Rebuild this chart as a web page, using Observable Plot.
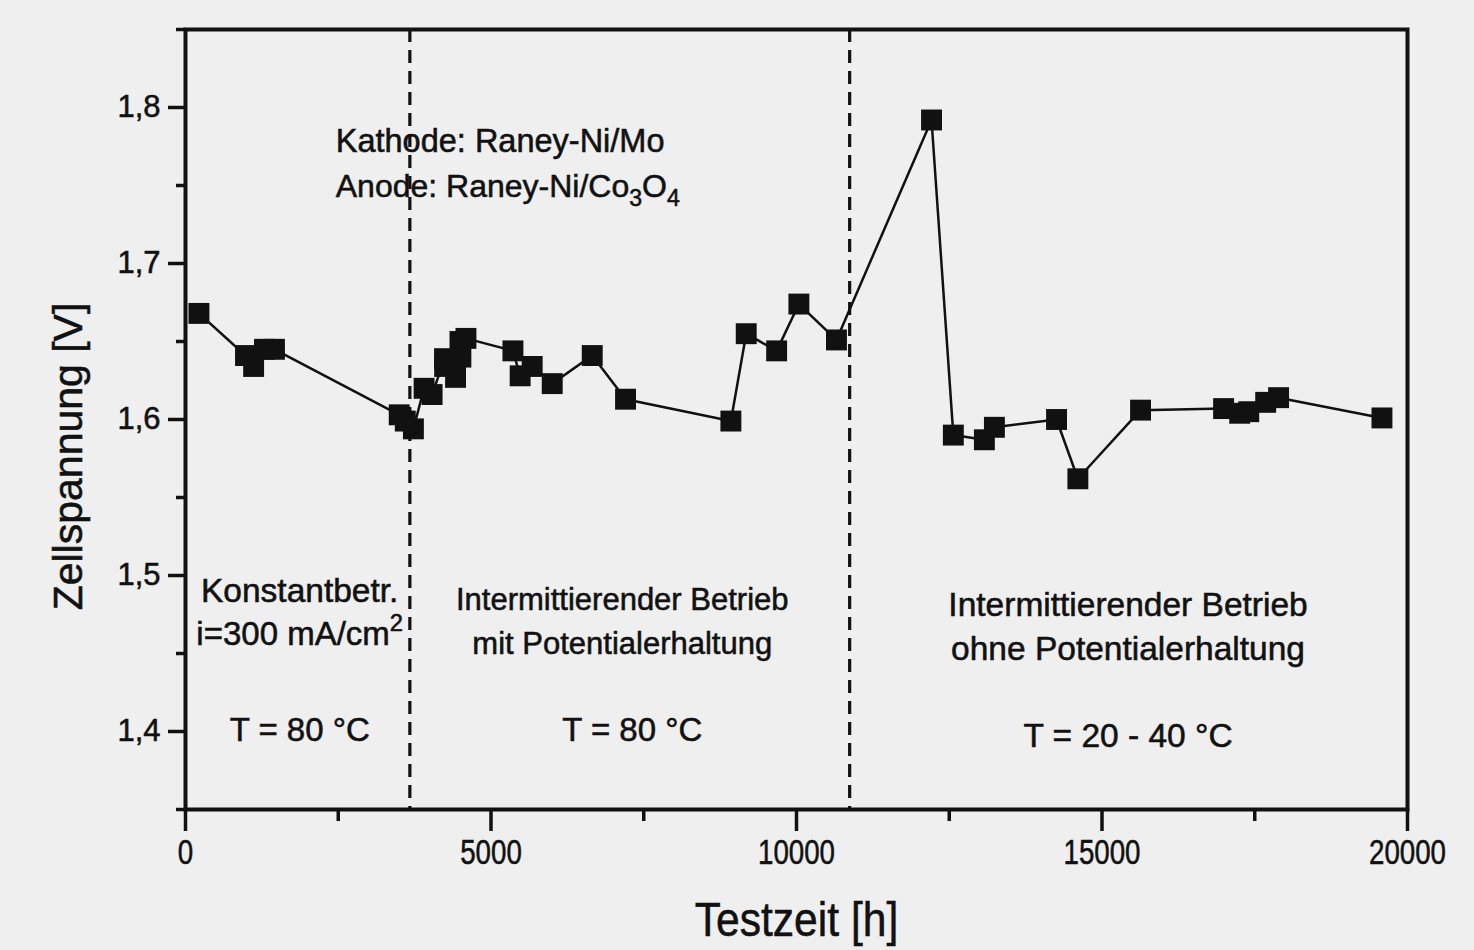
<!DOCTYPE html>
<html>
<head>
<meta charset="utf-8">
<script src="https://cdn.jsdelivr.net/npm/d3@7"></script>
<script src="https://cdn.jsdelivr.net/npm/@observablehq/plot@0.6"></script>
<style>
  html, body { margin: 0; padding: 0; background: #efefef; }
  #chart svg { display: block; }
  #chart svg text { stroke: #111; stroke-width: 0.55px; paint-order: stroke; }
  #chart g[aria-label$="-axis tick"] path { stroke: #111; stroke-width: 3.5px; }
</style>
</head>
<body>
<div id="chart"></div>
<script>
// Cell voltage of the test electrolyser over the operating time
const hours = [220, 982, 1115, 1292, 1456, 3498, 3597, 3730, 3905, 4036,
  4239, 4241, 4420, 4492, 4507, 4590, 5359, 5477, 5674, 6002,
  6657, 7202, 8926, 9177, 9675, 10039, 10654, 12210, 12567, 13075,
  13239, 14256, 14605, 15631, 16990, 17254, 17402, 17679, 17890, 19582];
const volts = [1.668, 1.641, 1.634, 1.645, 1.645, 1.603, 1.599, 1.594, 1.620, 1.616,
  1.639, 1.634, 1.627, 1.650, 1.640, 1.652, 1.644, 1.628, 1.634, 1.623,
  1.641, 1.613, 1.599, 1.655, 1.644, 1.674, 1.651, 1.792, 1.590, 1.587,
  1.595, 1.600, 1.562, 1.606, 1.607, 1.604, 1.605, 1.611, 1.614, 1.601];

// Boundaries between the three operating phases (h)
const phaseBounds = [3672, 10870];

// Axis ticks
const xMajor = [0, 5000, 10000, 15000, 20000];
const xMinor = [2500, 7500, 12500, 17500];
const yMajor = [1.4, 1.5, 1.6, 1.7, 1.8];
const yMinor = [1.35, 1.45, 1.55, 1.65, 1.75, 1.85];

// Electrode materials (left-aligned block)
const materialTexts = ["Kathode: Raney-Ni/Mo", "Anode: Raney-Ni/Co3O4"];
const materialHours = [2459, 2459];
const materialVolts = [1.778, 1.749];

// Operating conditions of each phase (centred blocks)
const phaseTexts = ["Konstantbetr.", "i=300 mA/cm2", "T = 80 °C",
  "Intermittierender Betrieb", "mit Potentialerhaltung", "T = 80 °C",
  "Intermittierender Betrieb", "ohne Potentialerhaltung", "T = 20 - 40 °C"];
const phaseHours = [1869, 1869, 1869, 7148, 7148, 7311, 15426, 15426, 15426];
const phaseVolts = [1.490, 1.462, 1.401, 1.484, 1.456, 1.401, 1.481, 1.453, 1.397];
const phaseSizes = [33.5, 33, 33, 31, 31, 33, 33.5, 33.5, 33.5];

const points = hours.map((h, i) => ({h, v: volts[i]}));
const materials = materialTexts.map((t, i) => ({t, h: materialHours[i], v: materialVolts[i]}));
const phases = phaseTexts.map((t, i) => ({t, h: phaseHours[i], v: phaseVolts[i], s: phaseSizes[i]}));

const sans = "'Liberation Sans', Arial, Helvetica, sans-serif";
const comma = d => d.toFixed(1).replace(".", ",");

const chart = Plot.plot({
  width: 1474,
  height: 950,
  marginLeft: 185,
  marginRight: 67,
  marginTop: 29,
  marginBottom: 141,
  style: {background: "#efefef", fontFamily: sans, color: "#111"},
  x: {domain: [0, 20000]},
  y: {domain: [1.35, 1.85]},
  marks: [
    Plot.axisX({ticks: xMajor, tickSize: 22, tickPadding: 7, tickFormat: d => String(d),
      fontSize: 36, strokeWidth: 3.5, stroke: "#111", fill: "#111", label: null}),
    Plot.axisX({ticks: xMinor, tickSize: 12, tickFormat: () => "", strokeWidth: 3.5, stroke: "#111", label: null}),
    Plot.axisY({ticks: yMajor, tickSize: 17, tickPadding: 8, tickFormat: comma,
      fontSize: 31, strokeWidth: 3.5, stroke: "#111", fill: "#111", label: null}),
    Plot.axisY({ticks: yMinor, tickSize: 9, tickFormat: () => "", strokeWidth: 3.5, stroke: "#111", label: null}),
    Plot.ruleX(phaseBounds, {stroke: "#111", strokeWidth: 3.2, strokeDasharray: "13,8"}),
    Plot.line(points, {x: "h", y: "v", stroke: "#111", strokeWidth: 2.5}),
    Plot.dot(points, {x: "h", y: "v", symbol: "square", r: 11.8, fill: "#111", stroke: "none"}),
    Plot.frame({stroke: "#111", strokeWidth: 4}),
    Plot.text(materials, {x: "h", y: "v", text: "t", textAnchor: "start", lineAnchor: "middle",
      fontSize: 32.5, fill: "#111"}),
    Plot.text(phases, {x: "h", y: "v", text: "t", textAnchor: "middle", lineAnchor: "middle",
      fontSize: "s", fill: "#111"}),
    Plot.text(["Testzeit [h]"], {frameAnchor: "bottom", dy: 111, lineAnchor: "middle",
      textAnchor: "middle", fontSize: 49, fill: "#111", className: "narrow-label"}),
    Plot.text(["Zellspannung [V]"], {frameAnchor: "left", dx: -117, dy: 37, rotate: -90,
      textAnchor: "middle", lineAnchor: "middle", fontSize: 41, fill: "#111"})
  ]
});

document.getElementById("chart").appendChild(chart);

// Condensed lettering for the time axis: squeeze glyphs around their anchor
function condense(selection, k) {
  selection.each(function () {
    const old = this.getAttribute("transform") || "";
    this.setAttribute("transform", old + ` scale(${k},1)`);
  });
}
condense(d3.select(chart).selectAll('g[aria-label="x-axis tick label"] text'), 0.77);
condense(d3.select(chart).selectAll(".narrow-label text"), 0.87);

// Chemical subscripts and the unit exponent as raised/lowered tspans
function richText(plain, parts) {
  d3.select(chart).selectAll("text").filter(function () {
    return this.textContent === plain && this.childElementCount === 0;
  }).each(function () {
    const size = parseFloat(this.getAttribute("font-size")) || 32;
    const t = d3.select(this);
    t.text(null);
    let shift = 0;
    for (const [s, kind] of parts) {
      const target = kind === "sub" ? 0.28 * size : kind === "sup" ? -0.42 * size : 0;
      t.append("tspan")
        .attr("dy", target - shift)
        .attr("font-size", kind ? 0.72 * size : size)
        .text(s);
      shift = target;
    }
  });
}
richText("Anode: Raney-Ni/Co3O4", [["Anode: Raney-Ni/Co"], ["3", "sub"], ["O"], ["4", "sub"]]);
richText("i=300 mA/cm2", [["i=300 mA/cm"], ["2", "sup"]]);
</script>
</body>
</html>
